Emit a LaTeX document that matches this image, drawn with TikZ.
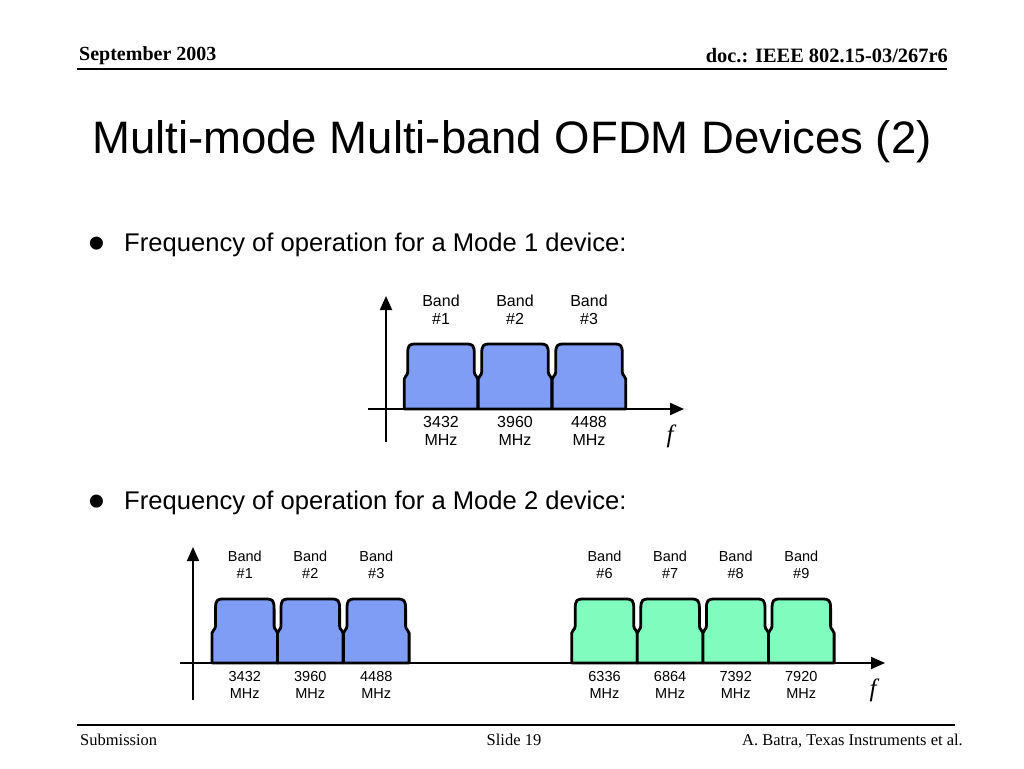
\documentclass[tikz,border=0pt]{standalone}
\usepackage{fontspec}
\setmainfont{Liberation Serif}
\setsansfont{Liberation Sans}
\usetikzlibrary{arrows.meta}
\definecolor{bandblue}{RGB}{128,157,245}
\definecolor{bandgreen}{RGB}{128,253,190}
\tikzset{
  axisline/.style={line width=2pt, -{Triangle[length=14pt,width=12pt]}},
  bandline/.style={line width=2.8pt, line join=round},
  rule/.style={line width=1.8pt},
  bandlbl/.style={font=\sffamily\fontsize{16}{18}\selectfont, align=center, inner sep=0pt},
  smalllbl/.style={font=\sffamily\fontsize{14.5}{17}\selectfont, align=center, inner sep=0pt},
  flbl/.style={font=\rmfamily\itshape\fontsize{25}{25}\selectfont, inner sep=0pt}
}
\begin{document}
\begin{tikzpicture}[x=1pt,y=-1pt]
   \newcommand{\bandshape}[5]{
        \filldraw[bandline, fill=#5] ({#1-#3},#2) -- ({#1-#3},{#2-30})
          .. controls ({#1-#3},{#2-33}) and ({#1-#3+3.5},{#2-33}) .. ({#1-#3+3.5},{#2-37})
          -- ({#1-#3+3.5},{#2-#4+10})
          .. controls ({#1-#3+3.5},{#2-#4+1}) and ({#1-#3+5},{#2-#4}) .. ({#1-#3+12},{#2-#4})
          -- ({#1+#3-12},{#2-#4})
          .. controls ({#1+#3-5},{#2-#4}) and ({#1+#3-3.5},{#2-#4+1}) .. ({#1+#3-3.5},{#2-#4+10})
          -- ({#1+#3-3.5},{#2-37})
          .. controls ({#1+#3-3.5},{#2-33}) and ({#1+#3},{#2-33}) .. ({#1+#3},{#2-30})
          -- ({#1+#3},#2) -- cycle;
    }
\useasboundingbox[fill=white] (0,0) rectangle (1024,768);
% header and footer
\node[anchor=base west, inner sep=0pt, font=\rmfamily\bfseries\fontsize{20}{20}\selectfont] (date) at (79,60) {September 2003};
\node[anchor=base east, inner sep=0pt, font=\rmfamily\bfseries\fontsize{20.4}{20}\selectfont] (doc) at (948,62.7) {doc.: IEEE 802.15-03/267r6};
\coordinate (hl) at (77,69);
\coordinate (hr) at (947,69);
\draw[rule] (hl) -- (hr);
\coordinate (fl) at (77,725);
\coordinate (fr) at (955,725);
\draw[rule] (fl) -- (fr);
\node[anchor=base west, inner sep=0pt, font=\rmfamily\fontsize{16.5}{16}\selectfont] (subm) at (80,745) {Submission};
\node[anchor=base, inner sep=0pt, font=\rmfamily\fontsize{16.5}{16}\selectfont] (slide) at (514,745) {Slide 19};
\node[anchor=base east, inner sep=0pt, font=\rmfamily\fontsize{16.5}{16}\selectfont] (author) at (963,745) {A. Batra, Texas Instruments et al.};
% title and bullets
\node[anchor=base west, inner sep=0pt, font=\sffamily\fontsize{45.5}{50}\selectfont] (title) at (92,153) {Multi-mode Multi-band OFDM Devices (2)};
\node[anchor=base, inner sep=0pt, font=\sffamily\fontsize{48}{48}\selectfont] (dotA) at (97,259) {•};
\node[anchor=base west, inner sep=0pt, font=\sffamily\fontsize{25.6}{30}\selectfont] (textA) at (124,251.7) {Frequency of operation for a Mode 1 device:};
\node[anchor=base, inner sep=0pt, font=\sffamily\fontsize{48}{48}\selectfont] (dotB) at (97,517) {•};
\node[anchor=base west, inner sep=0pt, font=\sffamily\fontsize{25.6}{30}\selectfont] (textB) at (124,509.7) {Frequency of operation for a Mode 2 device:};
% mode 1 spectrum
\foreach \c/\n/\fr in {441/1/3432, 515/2/3960, 589/3/4488} {
  \bandshape{\c}{409}{36.8}{65}{bandblue}
  \node[bandlbl] (oneband\n) at (\c,310) {Band\\\#\n};
  \node[bandlbl] (onefreq\n) at (\c,430.5) {\fr\\MHz};
}
\coordinate (oneylo) at (386,442);
\coordinate (oneyhi) at (386,296);
\coordinate (onexlo) at (368,409);
\coordinate (onexhi) at (684,409);
\draw[axisline] (oneylo) -- (oneyhi);
\draw[axisline] (onexlo) -- (onexhi);
\node[flbl] (onef) at (670,436) {f};
% mode 2 spectrum
\foreach \c/\n/\fr in {244.8/1/3432, 310.3/2/3960, 376.3/3/4488} {
  \bandshape{\c}{663}{32.8}{64}{bandblue}
  \node[smalllbl] (twoband\n) at (\c,564.5) {Band\\\#\n};
  \node[smalllbl] (twofreq\n) at (\c,684.5) {\fr\\MHz};
}
\foreach \c/\n/\fr in {604.5/6/6336, 670.1/7/6864, 735.7/8/7392, 801.3/9/7920} {
  \bandshape{\c}{663}{32.8}{64}{bandgreen}
  \node[smalllbl] (twoband\n) at (\c,564.5) {Band\\\#\n};
  \node[smalllbl] (twofreq\n) at (\c,684.5) {\fr\\MHz};
}
\coordinate (twoylo) at (193,700);
\coordinate (twoyhi) at (193,547);
\coordinate (twoxlo) at (180,663);
\coordinate (twoxhi) at (885,663);
\draw[axisline] (twoylo) -- (twoyhi);
\draw[axisline] (twoxlo) -- (twoxhi);
\node[flbl] (twof) at (873,690) {f};
\end{tikzpicture}
\end{document}
